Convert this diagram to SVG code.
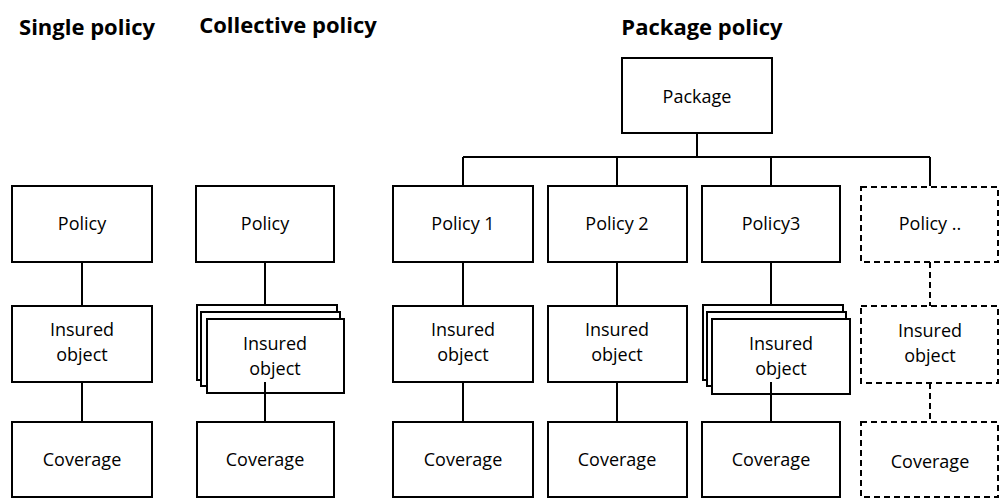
<svg xmlns="http://www.w3.org/2000/svg" width="1000" height="499" viewBox="0 0 1000 499">
<style>
.b{fill:#fff;stroke:#000;stroke-width:2}
.d{fill:#fff;stroke:#000;stroke-width:2;stroke-dasharray:6,4}
.l{stroke:#000;stroke-width:2;fill:none}
.dl{stroke:#000;stroke-width:2;fill:none;stroke-dasharray:6,4}
text{font-family:"Open Sans","Liberation Sans",sans-serif;font-size:18px;text-anchor:middle;fill:#000}
.t{font-size:22px;font-weight:bold}
</style>
<rect width="1000" height="499" fill="#fff"/>
<text class="t" x="87" y="35">Single policy</text>
<text class="t" x="288" y="33">Collective policy</text>
<text class="t" x="702" y="35">Package policy</text>
<g id="connectors">
<path class="l" d="M82 262V306M82 382V422M265 262V305M697 133V157M463 157H930M463 157V186M617 157V186M771 157V186M930 157V186M463 262V306M463 382V422M617 262V306M617 382V422M771 262V305"/>
<path class="dl" d="M930 262V306M930 383V422"/>
</g>
<g id="single-policy"><rect class="b" x="12" y="186" width="140" height="76"/><text x="82" y="230">Policy</text></g>
<g id="single-insured"><rect class="b" x="12" y="306" width="140" height="76"/><text x="82" y="336">Insured</text><text x="82" y="361">object</text></g>
<g id="single-coverage"><rect class="b" x="12" y="422" width="140" height="75"/><text x="82" y="466">Coverage</text></g>
<g id="coll-policy"><rect class="b" x="196" y="186" width="138" height="76"/><text x="265" y="230">Policy</text></g>
<g id="coll-insured"><rect class="b" x="197" y="305" width="140" height="75"/><rect class="b" x="201" y="312" width="139" height="74"/><rect class="b" x="207" y="319" width="137" height="74"/><text x="275" y="350">Insured</text><text x="275" y="375">object</text></g>
<g id="coll-coverage"><rect class="b" x="197" y="422" width="137" height="75"/><text x="265" y="466">Coverage</text></g>
<path class="l" d="M265 382V422"/>
<g id="package"><rect class="b" x="622" y="58" width="150" height="75"/><text x="697" y="103">Package</text></g>
<g id="policy1"><rect class="b" x="393" y="186" width="140" height="76"/><text x="463" y="230">Policy 1</text></g>
<g id="insured1"><rect class="b" x="393" y="306" width="140" height="76"/><text x="463" y="336">Insured</text><text x="463" y="361">object</text></g>
<g id="coverage1"><rect class="b" x="393" y="422" width="140" height="75"/><text x="463" y="466">Coverage</text></g>
<g id="policy2"><rect class="b" x="548" y="186" width="139" height="76"/><text x="617" y="230">Policy 2</text></g>
<g id="insured2"><rect class="b" x="548" y="306" width="139" height="76"/><text x="617" y="336">Insured</text><text x="617" y="361">object</text></g>
<g id="coverage2"><rect class="b" x="548" y="422" width="139" height="75"/><text x="617" y="466">Coverage</text></g>
<g id="policy3"><rect class="b" x="702" y="186" width="138" height="76"/><text x="771" y="230">Policy3</text></g>
<g id="insured3"><rect class="b" x="703" y="305" width="140" height="75"/><rect class="b" x="707" y="312" width="139" height="74"/><rect class="b" x="712" y="319" width="138" height="75"/><text x="781" y="350">Insured</text><text x="781" y="375">object</text></g>
<g id="coverage3"><rect class="b" x="702" y="422" width="138" height="75"/><text x="771" y="466">Coverage</text></g>
<path class="l" d="M771 382V422"/>
<g id="policy-more"><rect class="d" x="861" y="187" width="137" height="75"/><text x="930" y="230">Policy ..</text></g>
<g id="insured-more"><rect class="d" x="861" y="306" width="137" height="77"/><text x="930" y="337">Insured</text><text x="930" y="362">object</text></g>
<g id="coverage-more"><rect class="d" x="861" y="422" width="137" height="75"/><text x="930" y="468">Coverage</text></g>
</svg>
